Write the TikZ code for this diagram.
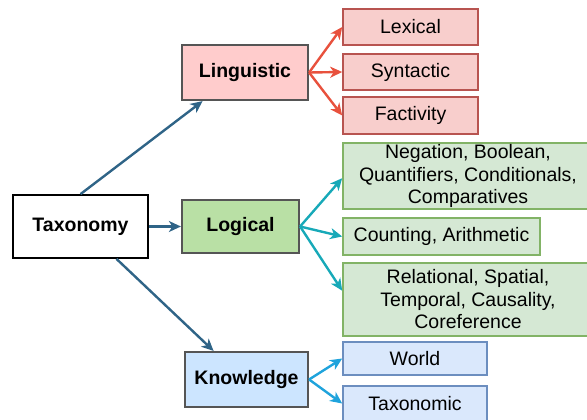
\documentclass[tikz,border=0pt]{standalone}
\usepackage{fontspec}
\setmainfont{Liberation Sans}
\usetikzlibrary{arrows.meta}
\definecolor{rootline}{HTML}{2F6487}
\definecolor{redline}{HTML}{E8513D}
\definecolor{tealline}{HTML}{17A9B8}
\definecolor{blueline}{HTML}{1FA3DC}
\definecolor{catgray}{HTML}{555555}
\definecolor{lingfill}{HTML}{FFCCCC}
\definecolor{logifill}{HTML}{B9E0A5}
\definecolor{knowfill}{HTML}{CCE5FF}
\definecolor{redfill}{HTML}{F8CECC}
\definecolor{reddraw}{HTML}{B85450}
\definecolor{greenfill}{HTML}{D5E8D4}
\definecolor{greendraw}{HTML}{82B366}
\definecolor{bluefill}{HTML}{DAE8FC}
\definecolor{bluedraw}{HTML}{6C8EBF}

\begin{document}
\begin{tikzpicture}[x=1pt, y=-1pt,
  box/.style={draw, inner sep=0pt, align=center, font=\fontsize{19.5}{22.5}\selectfont},
  catbox/.style={box, draw=catgray, line width=2.2pt, font=\fontsize{19.5}{22.5}\selectfont\bfseries},
  redbox/.style={box, fill=redfill, draw=reddraw, line width=1.6pt},
  greenbox/.style={box, fill=greenfill, draw=greendraw, line width=1.6pt},
  bluebox/.style={box, fill=bluefill, draw=bluedraw, line width=1.6pt},
  link/.style={line width=2.4pt, -{Stealth[length=12pt, width=11pt, inset=3.5pt]}}]
\useasboundingbox (0,0) rectangle (587,420);
% root and categories
\node[box, draw=black, line width=1.8pt, font=\fontsize{19.5}{22.5}\selectfont\bfseries,
  minimum width=135pt, minimum height=63pt] (taxonomy) at (80.5,226.5) {Taxonomy};
\node[catbox, fill=lingfill, minimum width=126pt, minimum height=55pt] (linguistic) at (245,72.5) {Linguistic};
\node[catbox, fill=logifill, minimum width=117pt, minimum height=53pt] (logical) at (240.5,226.5) {Logical};
\node[catbox, fill=knowfill, minimum width=123pt, minimum height=55pt] (knowledge) at (246.5,379.5) {Knowledge};
% linguistic leaves
\node[redbox, minimum width=135pt, minimum height=36pt] (lexical) at (410.5,27) {Lexical};
\node[redbox, minimum width=135pt, minimum height=36pt] (syntactic) at (410.5,72) {Syntactic};
\node[redbox, minimum width=135pt, minimum height=37pt] (factivity) at (410.5,115.5) {Factivity};
% logical leaves
\node[greenbox, minimum width=250pt, minimum height=66pt] (negation) at (468,176)
  {Negation, Boolean,\\Quantifiers, Conditionals,\\Comparatives};
\node[greenbox, minimum width=197pt, minimum height=37pt] (counting) at (441.5,236.5) {Counting, Arithmetic};
\node[greenbox, minimum width=250pt, minimum height=73pt] (relational) at (468,299.5)
  {Relational, Spatial,\\Temporal, Causality,\\Coreference};
% knowledge leaves
\node[bluebox, minimum width=144pt, minimum height=33pt] (world) at (415,358.5) {World};
\node[bluebox, minimum width=144pt, minimum height=35pt] (taxonomic) at (415,403.5) {Taxonomic};
% connectors
\draw[link, rootline] (taxonomy.north) -- (linguistic.214);
\draw[link, rootline] (taxonomy.east) -- (logical.west);
\draw[link, rootline] (taxonomy.318) -- (knowledge.139);
\draw[link, redline] (linguistic.east) -- (lexical.west);
\draw[link, redline] (linguistic.east) -- (syntactic.west);
\draw[link, redline] (linguistic.east) -- (factivity.west);
\draw[link, tealline] (logical.east) -- (negation.181);
\draw[link, tealline] (logical.east) -- (counting.west);
\draw[link, tealline] (logical.east) -- (relational.176);
\draw[link, blueline] (knowledge.east) -- (world.west);
\draw[link, blueline] (knowledge.east) -- (taxonomic.west);
\end{tikzpicture}
\end{document}
